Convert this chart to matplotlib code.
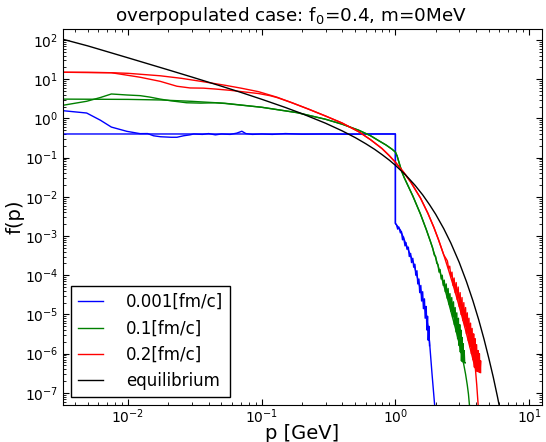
import matplotlib
matplotlib.use('Agg')
import matplotlib.pyplot as plt
from matplotlib.ticker import LogLocator

# ---- data (p in GeV, f dimensionless) ----
# equilibrium
eq_p = [0.00326, 0.005, 0.01, 0.02, 0.03, 0.05, 0.07, 0.1, 0.15, 0.2, 0.3, 0.4, 0.5,
        0.6, 0.7, 0.8, 0.9, 1.0, 1.2, 1.4, 1.6, 1.8, 2.0, 2.3, 2.6, 3.0, 3.4, 3.8,
        4.2, 4.6, 5.0, 5.4, 5.8, 6.2]
eq_f = [104, 70.5, 35.0, 17.25, 11.34, 6.61, 4.59, 3.07, 1.90, 1.32, 0.753, 0.480,
        0.324, 0.226, 0.162, 0.117, 0.0861, 0.0636, 0.0352, 0.0198, 0.0112, 6.3e-3,
        3.6e-3, 1.54e-3, 6.6e-4, 2.14e-4, 6.9e-5, 2.24e-5, 7.3e-6, 2.36e-6, 7.6e-7,
        2.5e-7, 8.0e-8, 2.6e-8]

# t = 0.001 fm/c : initial step and simulation
blue_p = [0.00326, 1.0, 1.0, 1.09, 1.22, 1.37, 1.50, 1.585, 1.68, 1.75, 1.80, 1.88, 1.97]
blue_f = [0.4, 0.4, 2.1e-3, 1.42e-3, 5.4e-4, 2.0e-4, 6.2e-5, 2.8e-5, 1.3e-5, 4.9e-6,
          2.0e-6, 3e-7, 4.5e-8]
blue_sim_p = [0.00326, 0.0049, 0.0062, 0.0075, 0.0098, 0.0123, 0.014, 0.0155, 0.0175,
              0.021, 0.0232, 0.026, 0.029, 0.031, 0.036, 0.04, 0.045, 0.05, 0.058,
              0.065, 0.071, 0.076, 0.085, 0.1, 0.12, 0.15, 0.2, 0.3, 0.45, 0.7, 1.0,
              1.0, 1.02, 1.04, 1.06, 1.09, 1.11, 1.13, 1.15, 1.18, 1.20, 1.22, 1.25,
              1.27, 1.30, 1.32, 1.35, 1.37, 1.40, 1.42, 1.45, 1.47, 1.50, 1.52, 1.55,
              1.57, 1.60, 1.62, 1.65, 1.67, 1.70, 1.72, 1.74, 1.76, 1.78, 1.80]
blue_sim_f = [1.57, 1.37, 0.9, 0.6, 0.467, 0.408, 0.41, 0.36, 0.34,
              0.33, 0.33, 0.36, 0.38, 0.40, 0.39, 0.41, 0.38, 0.40, 0.39,
              0.42, 0.47, 0.41, 0.39, 0.40, 0.39, 0.41, 0.395, 0.40, 0.395, 0.40, 0.40,
              2.1e-3, 1.9e-3, 1.5e-3, 1.7e-3, 1.2e-3, 1.3e-3, 8.0e-4, 9.5e-4, 5.6e-4,
              6.8e-4, 4.6e-4, 5.2e-4, 3.0e-4, 3.6e-4, 2.1e-4, 2.7e-4, 1.6e-4, 1.9e-4,
              1.0e-4, 1.3e-4, 6.0e-5, 8.0e-5, 3.6e-5, 5.5e-5, 2.2e-5, 3.8e-5, 1.4e-5,
              2.5e-5, 8e-6, 1.6e-5, 4e-6, 9e-6, 2.2e-6, 5e-6, 1.6e-6]

# t = 0.1 fm/c
green_p = [0.00326, 0.01, 0.0174, 0.03, 0.053, 0.1, 0.184, 0.3, 0.4, 0.53, 0.65, 0.75,
           0.85, 0.945, 1.0, 1.03, 1.06, 1.09, 1.12, 1.16, 1.22, 1.35, 1.54, 1.7, 1.83,
           2.0, 2.17, 2.35, 2.51, 2.65, 2.81, 2.95, 3.07, 3.17, 3.25, 3.35, 3.45, 3.52,
           3.58]
green_f = [3.1, 3.05, 2.95, 2.72, 2.43, 1.92, 1.40, 0.95, 0.71, 0.50, 0.363, 0.27,
           0.21, 0.163, 0.138, 0.11, 0.079, 0.0575, 0.0427, 0.0316, 0.0219, 0.0105,
           3.63e-3, 1.48e-3, 7.2e-4, 2.8e-4, 1.12e-4, 4.3e-5, 1.9e-5, 9.5e-6, 4.5e-6,
           2.3e-6, 1.29e-6, 7.9e-7, 5.2e-7, 3.0e-7, 1.58e-7, 9.3e-8, 4.9e-8]
green_sim_p = [0.00326, 0.0049, 0.0062, 0.0075, 0.0098, 0.0123, 0.0145, 0.0174, 0.021,
               0.0275, 0.035, 0.045, 0.053, 0.1, 0.184, 0.3, 0.4, 0.53, 0.65, 0.75,
               0.85, 0.945, 1.0, 1.03, 1.06, 1.09, 1.12, 1.16, 1.22, 1.35, 1.54, 1.7,
               1.83, 1.90, 1.95, 2.00, 2.04, 2.08, 2.12, 2.16, 2.20, 2.24, 2.28, 2.32,
               2.36, 2.40, 2.44, 2.48, 2.52, 2.56, 2.60, 2.64, 2.68, 2.72, 2.76, 2.80,
               2.84, 2.88, 2.92, 2.96, 3.00, 3.03, 3.06, 3.09, 3.12, 3.15, 3.18, 3.21,
               3.24, 3.27, 3.30, 3.33]
green_sim_f = [2.16, 2.73, 3.4, 4.19, 3.95, 3.8, 3.5, 3.1, 2.8,
               2.5, 2.45, 2.5, 2.4, 1.92, 1.40, 0.95, 0.71, 0.50, 0.363, 0.27,
               0.21, 0.163, 0.138, 0.11, 0.079, 0.0575, 0.0427, 0.0316, 0.0219, 0.0105,
               3.63e-3, 1.48e-3, 7.2e-4, 5.0e-4, 3.3e-4, 3.0e-4, 2.0e-4, 1.9e-4, 1.2e-4,
               1.4e-4, 8.0e-5, 1.0e-4, 5.5e-5, 7.5e-5, 3.8e-5, 6.0e-5, 2.6e-5, 4.6e-5,
               1.8e-5, 3.4e-5, 1.2e-5, 2.7e-5, 8.5e-6, 2.1e-5, 5.5e-6, 1.5e-5, 3.6e-6,
               1.1e-5, 2.4e-6, 8e-6, 1.6e-6, 5.5e-6, 1.1e-6, 4.0e-6, 6.5e-7, 2.6e-6,
               6.2e-7, 1.8e-6, 6.0e-7, 1.2e-6, 5.8e-7, 5.8e-7]

# t = 0.2 fm/c
red_p = [0.00326, 0.005, 0.0075, 0.01, 0.0174, 0.0251, 0.0366, 0.053, 0.07, 0.0946,
         0.13, 0.168, 0.224, 0.3, 0.4, 0.531, 0.65, 0.794, 0.9, 1.0, 1.15, 1.3, 1.54,
         1.75, 1.94, 2.1, 2.3, 2.5, 2.74, 2.95, 3.16, 3.35, 3.54, 3.75, 3.97, 4.06, 4.16]
red_f = [15.0, 14.9, 14.6, 14.1, 12.2, 10.5, 8.6, 7.0, 5.9, 4.8,
         3.47, 2.51, 1.72, 1.15, 0.759, 0.458, 0.288, 0.17, 0.112, 0.076, 0.0427,
         0.024, 9.3e-3, 3.8e-3, 1.66e-3, 8.1e-4, 3.3e-4, 1.35e-4, 4.8e-5, 2.0e-5,
         8.5e-6, 4.0e-6, 1.9e-6, 8.7e-7, 4.0e-7, 1.6e-7, 4.9e-8]
red_sim_p = [0.00326, 0.0075, 0.0123, 0.0174, 0.0232, 0.0291, 0.0366, 0.045, 0.058,
             0.075, 0.0946, 0.115, 0.13, 0.168, 0.224, 0.3, 0.4, 0.531, 0.65, 0.794,
             0.9, 1.0, 1.15, 1.3, 1.54, 1.75, 1.94, 2.1, 2.3,
             2.40, 2.45, 2.50, 2.55, 2.60, 2.65, 2.70, 2.75, 2.80, 2.85, 2.90, 2.95,
             3.00, 3.05, 3.10, 3.15, 3.20, 3.25, 3.30, 3.35, 3.40, 3.45, 3.50, 3.55,
             3.60, 3.65, 3.70, 3.75, 3.80, 3.85, 3.90, 3.95, 4.00, 4.05, 4.10, 4.15,
             4.20, 4.25, 4.30, 4.34, 4.34]
red_sim_f = [15, 14.6, 11.2, 8.8, 6.6, 5.97, 5.9, 5.6, 5.2,
             4.7, 4.3, 3.8, 3.4, 2.51, 1.72, 1.15, 0.759, 0.458, 0.288, 0.17,
             0.112, 0.076, 0.0427, 0.024, 9.3e-3, 3.8e-3, 1.66e-3, 8.1e-4, 3.3e-4,
             2.6e-4, 2.3e-4, 1.5e-4, 1.7e-4, 9.0e-5, 1.2e-4, 5.5e-5, 8.5e-5, 3.6e-5,
             6.5e-5, 2.4e-5, 5.0e-5, 1.6e-5, 3.6e-5, 1.0e-5, 2.7e-5, 7e-6, 2.0e-5,
             4.8e-6, 1.5e-5, 3.2e-6, 1.1e-5, 2.2e-6, 8e-6, 1.5e-6, 6e-6, 1.0e-6, 4.4e-6,
             7e-7, 3.2e-6, 4.5e-7, 2.4e-6, 3.6e-7, 1.7e-6, 3.5e-7, 1.2e-6, 3.4e-7,
             1.0e-6, 3.3e-7, 6.6e-7, 3.3e-7]

yticks = [1e-7, 1e-6, 1e-5, 1e-4, 1e-3, 1e-2, 1e-1, 1e0, 1e1, 1e2]

plt.rcParams['font.family'] = 'DejaVu Sans'
plt.rcParams['xtick.direction'] = 'in'
plt.rcParams['ytick.direction'] = 'in'

fig = plt.figure(figsize=(5.46, 4.42), dpi=100)
ax = fig.add_axes([0.1154, 0.0837, 0.8773, 0.8496])

ax.plot(blue_sim_p, blue_sim_f, color='b', lw=1)
l1, = ax.plot(blue_p, blue_f, color='b', lw=1)
ax.plot(green_sim_p, green_sim_f, color='g', lw=1)
l2, = ax.plot(green_p, green_f, color='g', lw=1)
ax.plot(red_sim_p, red_sim_f, color='r', lw=1)
l3, = ax.plot(red_p, red_f, color='r', lw=1)
l4, = ax.plot(eq_p, eq_f, color='k', lw=1)

ax.set_xscale('log')
ax.set_yscale('log')
ax.set_xlim(0.00326, 12.5)
ax.set_ylim(4.9e-8, 185)
ax.set_yticks(yticks)
ax.yaxis.set_minor_locator(LogLocator(base=10, subs=range(2, 10), numticks=20))

ax.tick_params(which='both', top=True, right=True, labelsize=10)
ax.tick_params(which='major', length=4)
ax.tick_params(which='minor', length=2)
ax.tick_params(axis='x', pad=2)

ax.set_title(r'overpopulated case: $\mathregular{f_0}$=0.4, m=0MeV', fontsize=13.2,
             x=0.477)
ax.set_xlabel('p [GeV]', fontsize=14, labelpad=-2)
ax.set_ylabel('f(p)', fontsize=14, labelpad=0)

leg = ax.legend([l1, l2, l3, l4],
                ['0.001[fm/c]', '0.1[fm/c]', '0.2[fm/c]', 'equilibrium'],
                loc='lower left', fontsize=12, fancybox=False, framealpha=1,
                handlelength=1.5, handletextpad=1.4)
leg.get_frame().set_edgecolor('k')

plt.savefig('out.png')
